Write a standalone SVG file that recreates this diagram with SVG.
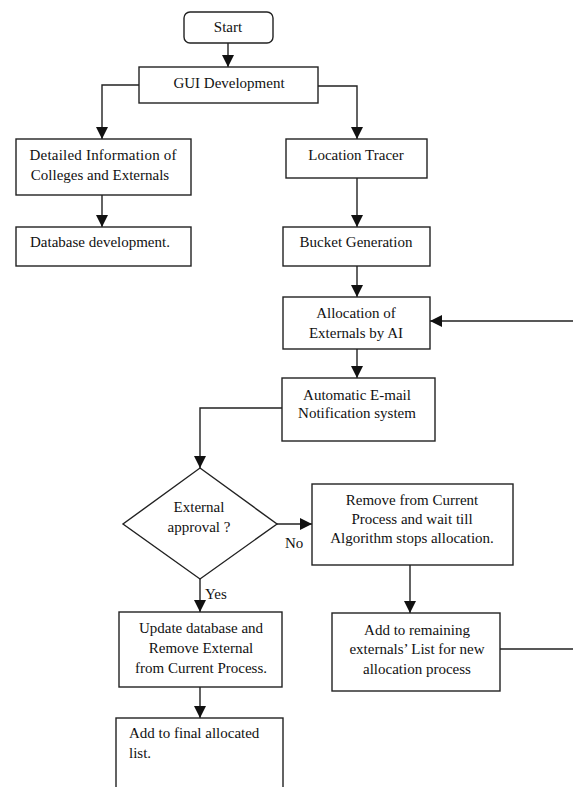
<svg xmlns="http://www.w3.org/2000/svg" width="573" height="787" viewBox="0 0 573 787">
<style>
.box{fill:#fff;stroke:#222;stroke-width:1.4}
.t{font-family:"Liberation Serif","Times New Roman",serif;font-size:15px;fill:#111;text-anchor:middle}
.l{text-anchor:start}
.c{fill:none;stroke:#222;stroke-width:1.4}
</style>
<defs>
<marker id="ah" viewBox="0 0 12 12" refX="12" refY="6" markerWidth="12" markerHeight="12" markerUnits="userSpaceOnUse" orient="auto">
<path d="M0,0 L12,6 L0,12 Z" fill="#111"/>
</marker>
</defs>
<rect width="573" height="787" fill="#fff"/>
<g id="connectors">
<path class="c" d="M228,43 V67" marker-end="url(#ah)"/>
<path class="c" d="M139,85 H102 V139" marker-end="url(#ah)"/>
<path class="c" d="M318,86 H357 V139" marker-end="url(#ah)"/>
<path class="c" d="M102,195 V227" marker-end="url(#ah)"/>
<path class="c" d="M357,178 V227" marker-end="url(#ah)"/>
<path class="c" d="M357,266 V297" marker-end="url(#ah)"/>
<path class="c" d="M357,349 V378" marker-end="url(#ah)"/>
<path class="c" d="M282,408 H200 V468" marker-end="url(#ah)"/>
<path class="c" d="M277,524 H312" marker-end="url(#ah)"/>
<path class="c" d="M410,565 V613" marker-end="url(#ah)"/>
<path class="c" d="M200,579 V612" marker-end="url(#ah)"/>
<path class="c" d="M200,687 V718" marker-end="url(#ah)"/>
<path class="c" d="M500,649 H576 V321 H430" marker-end="url(#ah)"/>
<text class="t l" x="285" y="548">No</text>
<text class="t l" x="205" y="599">Yes</text>
</g>
<g id="start">
<rect class="box" x="184" y="12" width="89" height="31" rx="6"/>
<text class="t" x="228" y="32">Start</text>
</g>
<g id="gui">
<rect class="box" x="139" y="67" width="179" height="36"/>
<text class="t" x="229" y="88">GUI Development</text>
</g>
<g id="detailed">
<rect class="box" x="16" y="139" width="175" height="56"/>
<text class="t" x="103" y="160" textLength="147" lengthAdjust="spacing">Detailed Information of</text>
<text class="t" x="100" y="180">Colleges and Externals</text>
</g>
<g id="database">
<rect class="box" x="16" y="227" width="175" height="39"/>
<text class="t l" x="30" y="247">Database development.</text>
</g>
<g id="location">
<rect class="box" x="286" y="139" width="141" height="39"/>
<text class="t" x="356" y="160">Location Tracer</text>
</g>
<g id="bucket">
<rect class="box" x="283" y="227" width="147" height="39"/>
<text class="t" x="356" y="247">Bucket Generation</text>
</g>
<g id="allocation">
<rect class="box" x="283" y="297" width="147" height="52"/>
<text class="t" x="356" y="318">Allocation of</text>
<text class="t" x="356" y="338">Externals by AI</text>
</g>
<g id="email">
<rect class="box" x="282" y="378" width="153" height="63"/>
<text class="t" x="357" y="400">Automatic E-mail</text>
<text class="t" x="357" y="418">Notification system</text>
</g>
<g id="approval">
<polygon class="box" points="200,468 277,524 200,579 123,524"/>
<text class="t" x="199" y="512">External</text>
<text class="t" x="199" y="532">approval ?</text>
</g>
<g id="remove">
<rect class="box" x="312" y="484" width="201" height="81"/>
<text class="t" x="412" y="505">Remove from Current</text>
<text class="t" x="412" y="524">Process and wait till</text>
<text class="t" x="412" y="543">Algorithm stops allocation.</text>
</g>
<g id="remaining">
<rect class="box" x="332" y="613" width="168" height="78"/>
<text class="t" x="417" y="635">Add to remaining</text>
<text class="t" x="417" y="654">externals’ List for new</text>
<text class="t" x="417" y="674">allocation process</text>
</g>
<g id="update">
<rect class="box" x="119" y="612" width="163" height="75"/>
<text class="t" x="201" y="633">Update database and</text>
<text class="t" x="201" y="653">Remove External</text>
<text class="t" x="201" y="673">from Current Process.</text>
</g>
<g id="final">
<rect class="box" x="116" y="718" width="167" height="80"/>
<text class="t l" x="129" y="738">Add to final  allocated</text>
<text class="t l" x="129" y="758">list.</text>
</g>
</svg>
